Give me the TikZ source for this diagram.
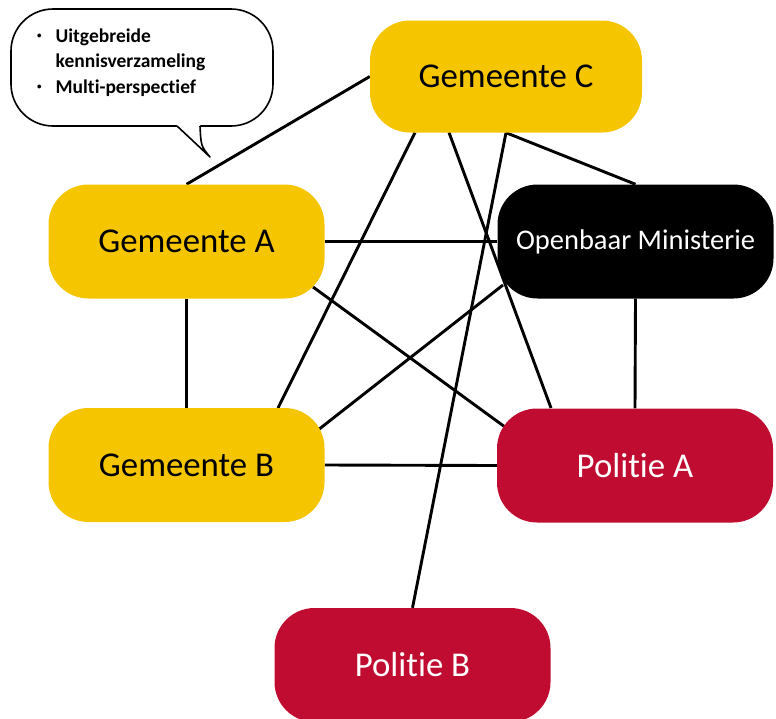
\documentclass[tikz,border=0pt]{standalone}
\usepackage{fontspec}
\setmainfont{Carlito}[Ligatures=NoCommon]
\usetikzlibrary{calc,backgrounds}
\definecolor{geelgem}{RGB}{245,197,0}
\definecolor{roodpol}{RGB}{192,12,49}
\tikzset{
  actor/.style={rectangle, rounded corners=40pt, minimum width=276pt,
    minimum height=114pt, inner sep=0pt, font=\fontsize{34.8}{40}\selectfont},
  gemeente/.style={actor, fill=geelgem, text=black},
  politie/.style={actor, fill=roodpol, text=white},
  om/.style={actor, fill=black, text=white, font=\fontsize{28.5}{34}\selectfont},
  link/.style={draw=black, line width=2.9pt},
  bubble/.style={draw=black, line width=1.6pt, fill=white}
}
\newcommand{\klbullet}{\raisebox{0.18em}{\fontsize{9}{9}\selectfont\textbullet}}
\begin{document}
\begin{tikzpicture}[x=1pt,y=-1pt]
\useasboundingbox (0,0) rectangle (776,718);

% organisations
\node[gemeente, minimum width=272pt, minimum height=112pt] (gC) at (506,76.5) {Gemeente C};
\node[gemeente] (gA) at (186.5,241.5) {Gemeente A};
\node[om]       (om) at (635.5,241.5) {Openbaar Ministerie};
\node[gemeente] (gB) at (186.5,465)   {Gemeente B};
\node[politie]  (pA) at (635,465.5)   {Politie A};
\node[politie]  (pB) at (412.5,665)   {Politie B};

% connections, kept behind the boxes
\begin{pgfonlayer}{background}
\draw[link] (gA.north) -- (gC.west);
\draw[link] ($(gC.center)+(-91,56)$) -- ($(gB.center)+(91.5,-57)$);
\draw[link] ($(gC.center)+(-57,56)$) -- ($(pA.center)+(-84,-57.5)$);
\draw[link] (gC.south) -- (pB.north);
\draw[link] (gC.south) -- (om.north);
\draw[link] (gA.east) -- (om.west);
\draw[link] ($(gA.center)+(126.5,45.5)$) -- ($(pA.center)+(-130,-38.5)$);
\draw[link] (gA.south) -- (gB.north);
\draw[link] ($(gB.center)+(131.5,-35)$) -- ($(om.center)+(-132.5,43.5)$);
\draw[link] (gB.east) -- (pA.west);
\draw[link] (om.south) -- (pA.north);
\end{pgfonlayer}

% speech bubble
\draw[bubble, rounded corners=42pt] (11,9) rectangle (273,126);
\fill[white] (176,120) -- (177,126) .. controls (192,140) .. (210,157)
  .. controls (201,146) .. (200,126) -- (201,120) -- cycle;
\draw[black, line width=1.6pt, line join=round]
  (177,126) .. controls (192,140) .. (210,157) .. controls (201,146) .. (200,126);
\node[anchor=base west, inner sep=0pt, font=\bfseries\fontsize{19.5}{25.5}\selectfont,
  align=left] (kennis) at (37,42)
  {\begin{tabular}[t]{@{}l@{\hspace{14pt}}l@{}}
   \klbullet & Uitgebreide\\
             & kennisverzameling\\
   \klbullet & Multi-perspectief
   \end{tabular}};
\end{tikzpicture}
\end{document}
